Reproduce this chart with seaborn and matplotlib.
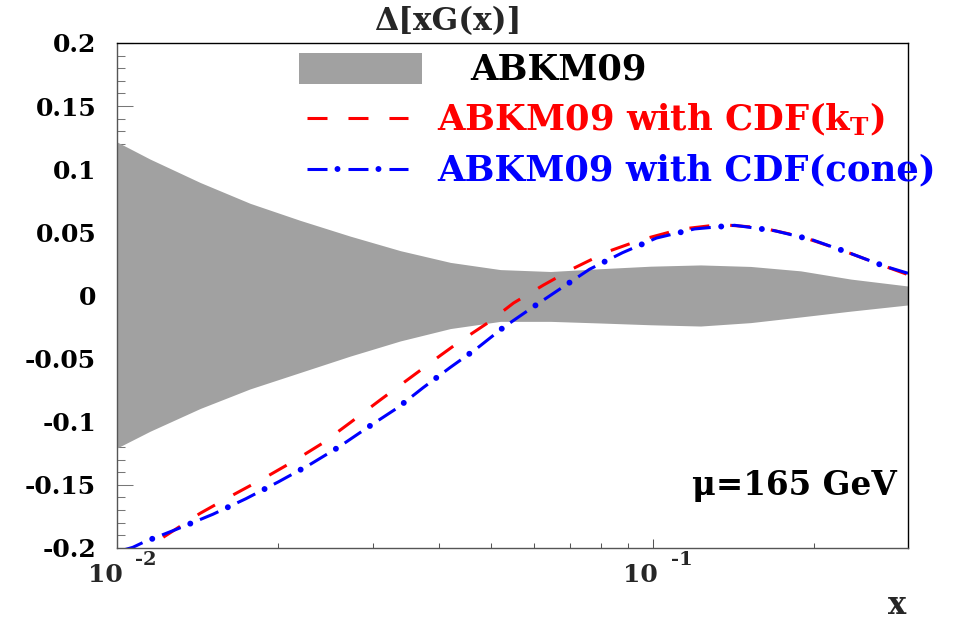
import matplotlib
matplotlib.use("Agg")
import matplotlib.pyplot as plt
from matplotlib.lines import Line2D
from matplotlib.patches import Rectangle
from matplotlib.ticker import FixedLocator, FixedFormatter, NullFormatter
import seaborn as sns

# ABKM09 uncertainty band on x*G(x) at mu = 165 GeV
band_x = [0.0100, 0.01153, 0.01430, 0.01772, 0.02198, 0.02726, 0.03381, 0.04193,
          0.05199, 0.06449, 0.07995, 0.09914, 0.12295, 0.15248, 0.18910, 0.23448, 0.3000]
band_hi = [0.1216, 0.1080, 0.0895, 0.0730, 0.0595, 0.0470, 0.0355, 0.0262,
           0.0205, 0.0190, 0.0212, 0.0232, 0.0242, 0.0230, 0.0195, 0.0130, 0.0075]
band_lo = [-0.1208, -0.1075, -0.0895, -0.0740, -0.0610, -0.0480, -0.0360, -0.0262,
           -0.0205, -0.0205, -0.0218, -0.0232, -0.0242, -0.0215, -0.0170, -0.0124, -0.0075]

# shift of the gluon after adding CDF inclusive jets, kT algorithm
kt_x = [0.0122, 0.0143, 0.0163, 0.0188, 0.0213, 0.0242, 0.0273, 0.0310, 0.0353,
        0.0402, 0.0434, 0.0492, 0.0550, 0.0626, 0.0712, 0.0824, 0.0950, 0.1128,
        0.1340, 0.1592, 0.1891, 0.2246, 0.2668, 0.3000]
kt_y = [-0.1915, -0.1725, -0.1590, -0.1448, -0.1316, -0.1170, -0.1005, -0.0828,
        -0.0651, -0.0474, -0.0372, -0.0218, -0.0060, 0.0083, 0.0215, 0.0347,
        0.0440, 0.0525, 0.0562, 0.0537, 0.0468, 0.0362, 0.0243, 0.0165]

# same, cone algorithm
cone_x = [0.0103, 0.0107, 0.0112, 0.0130, 0.0151, 0.0174, 0.0200, 0.0229, 0.0260,
          0.0295, 0.0334, 0.0373, 0.0419, 0.0471, 0.0527, 0.0597, 0.0673, 0.0763,
          0.0879, 0.1017, 0.1198, 0.1423, 0.1691, 0.1991, 0.2325, 0.2703, 0.3000]
cone_y = [-0.2015, -0.1995, -0.1955, -0.1847, -0.1733, -0.1610, -0.1477, -0.1340,
          -0.1198, -0.1040, -0.0890, -0.0730, -0.0570, -0.0416, -0.0252, -0.0094,
          0.0054, 0.0208, 0.0339, 0.0455, 0.0527, 0.0556, 0.0513, 0.0440, 0.0339,
          0.0234, 0.0176]

ytick_vals = [-0.2, -0.15, -0.1, -0.05, 0.0, 0.05, 0.1, 0.15, 0.2]
ytick_text = ["-0.2", "-0.15", "-0.1", "-0.05", "0", "0.05", "0.1", "0.15", "0.2"]
xtick_major = [0.01, 0.1]
xtick_exp = ["-2", "-1"]
xtick_minor = [0.02, 0.03, 0.04, 0.05, 0.06, 0.07, 0.08, 0.09, 0.2]

legend_labels = ["ABKM09", r"ABKM09 with CDF(k$_{\mathbf{T}}$)", "ABKM09 with CDF(cone)"]

sns.set_theme(style="ticks")
plt.rcParams["font.family"] = ["DejaVu Serif"]
plt.rcParams["font.weight"] = "bold"
plt.rcParams["mathtext.fontset"] = "dejavuserif"
plt.rcParams["mathtext.default"] = "bf"
plt.rcParams["axes.unicode_minus"] = False
plt.rcParams["lines.scale_dashes"] = False

BAND = "#a1a1a1"
RED = "#ff0000"
BLUE = "#0000ff"
DASH = (14.4, 15.1)
DOTS = (7.55, (0.001, 29.5))
LW = 2.2
LEG_FS = 25.5

fig = plt.figure(figsize=(9.57, 6.22), dpi=100)
ax = fig.add_axes([0.1223, 0.1190, 0.8265, 0.8119])
ax.set_xscale("log")

ax.fill_between(band_x, band_lo, band_hi, color=BAND, linewidth=0, zorder=3)

sns.lineplot(x=kt_x, y=kt_y, ax=ax, color=RED, linewidth=LW, linestyle=(0, DASH),
             sort=False, estimator=None, legend=False, zorder=4)
sns.lineplot(x=cone_x, y=cone_y, ax=ax, color=BLUE, linewidth=LW, linestyle=(0, DASH),
             sort=False, estimator=None, legend=False, zorder=5)
sns.lineplot(x=cone_x, y=cone_y, ax=ax, color=BLUE, linewidth=4.3, linestyle=DOTS,
             dash_capstyle="round", sort=False, estimator=None, legend=False, zorder=5)

ax.set_xlim(0.01, 0.3)
ax.set_ylim(-0.2, 0.2)
ax.set_xlabel("")
ax.set_ylabel("")

# axes frame and ticks
for side, col in (("left", "#555555"), ("bottom", "#555555"), ("top", "black"), ("right", "black")):
    ax.spines[side].set_visible(True)
    ax.spines[side].set_color(col)
    ax.spines[side].set_linewidth(1.0)
    ax.spines[side].set_zorder(6)

ax.yaxis.set_major_locator(FixedLocator(ytick_vals))
ax.yaxis.set_major_formatter(FixedFormatter(ytick_text))
ax.yaxis.set_minor_locator(FixedLocator([i / 100 for i in range(-20, 21)]))
ax.xaxis.set_major_locator(FixedLocator(xtick_major))
ax.xaxis.set_minor_locator(FixedLocator(xtick_minor))
ax.xaxis.set_major_formatter(NullFormatter())
ax.xaxis.set_minor_formatter(NullFormatter())
ax.tick_params(axis="y", which="major", direction="in", length=11.5, width=0.75,
               color="#777777", pad=15, labelsize=18, left=True, right=False)
ax.tick_params(axis="y", which="minor", direction="in", length=5.8, width=0.75,
               color="#777777", left=True, right=False)
ax.tick_params(axis="x", which="major", direction="in", length=6.5, width=0.75,
               color="#555555", bottom=True, top=False)
ax.tick_params(axis="x", which="minor", direction="in", length=3.6, width=0.75,
               color="#555555", bottom=True, top=False)
for lab in ax.get_yticklabels():
    lab.set_fontweight("bold")
    lab.set_color("black")

# power-of-ten labels on the log axis
for xv, ex in zip(xtick_major, xtick_exp):
    ax.annotate("10", xy=(xv, 0), xycoords=("data", "axes fraction"),
                xytext=(-8.6, -19.4), textcoords="offset points",
                ha="center", va="center", fontsize=18, fontweight="bold")
    ax.annotate(ex, xy=(xv, 0), xycoords=("data", "axes fraction"),
                xytext=(20.9, -8.8), textcoords="offset points",
                ha="center", va="center", fontsize=14, fontweight="bold")

fig.text(0.937, 0.026, "x", ha="center", va="center", fontsize=22, fontweight="bold")
fig.text(0.468, 0.966, "\u0394[xG(x)]", ha="center", va="center", fontsize=22.5,
         fontweight="bold")
ax.text(0.986, 0.105, "\u03bc=165 GeV", transform=ax.transAxes, ha="right",
        va="baseline", fontsize=23.5, fontweight="bold", color="black", zorder=8)

# legend keys
ax.add_patch(Rectangle((0.230, 0.9188), 0.1556, 0.0612, transform=ax.transAxes,
                       facecolor=BAND, edgecolor="none", zorder=7))
ax.add_line(Line2D([0.2402, 0.3679], [0.8515, 0.8515], transform=ax.transAxes,
                   color=RED, linewidth=LW, linestyle=(0, DASH), zorder=7))
ax.add_line(Line2D([0.2402, 0.3679], [0.7505, 0.7505], transform=ax.transAxes,
                   color=BLUE, linewidth=LW, linestyle=(0, DASH), zorder=7))
ax.add_line(Line2D([0.2402, 0.3679], [0.7505, 0.7505], transform=ax.transAxes,
                   color=BLUE, linewidth=4.3, linestyle=DOTS, dash_capstyle="round",
                   zorder=7))
ax.text(0.4463, 0.9267, legend_labels[0], transform=ax.transAxes, ha="left",
        va="baseline", fontsize=LEG_FS, fontweight="bold", color="black", zorder=8)
ax.text(0.4046, 0.8277, legend_labels[1], transform=ax.transAxes, ha="left",
        va="baseline", fontsize=LEG_FS, fontweight="bold", color=RED, zorder=8)
ax.text(0.4046, 0.7287, legend_labels[2], transform=ax.transAxes, ha="left",
        va="baseline", fontsize=LEG_FS, fontweight="bold", color=BLUE, zorder=8,
        clip_on=False)

fig.savefig("out.png", dpi=100, facecolor="white")
